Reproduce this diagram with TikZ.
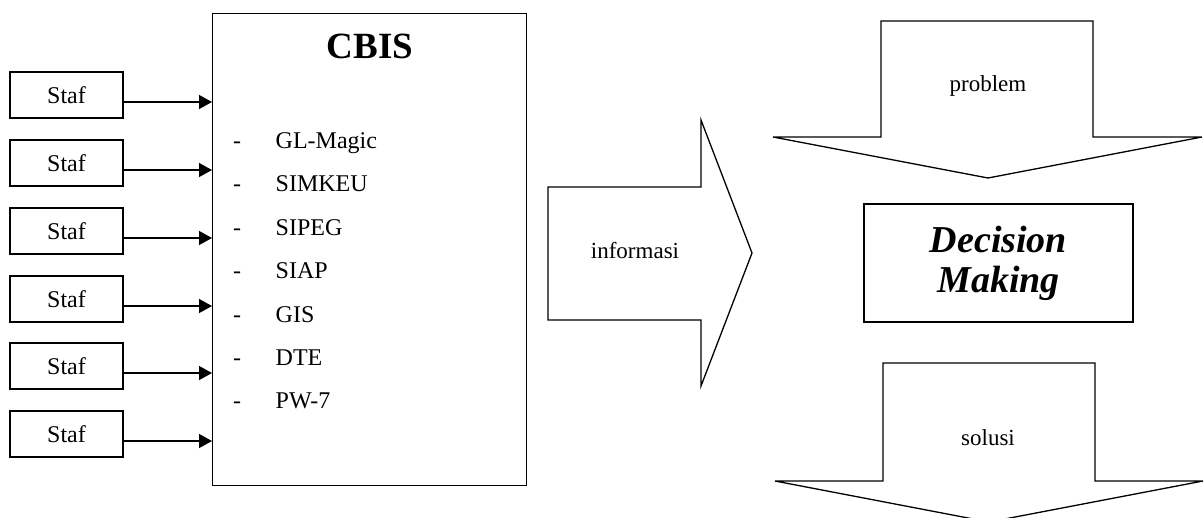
\documentclass[tikz,border=0pt]{standalone}
\usepackage{fontspec}
\setmainfont{Liberation Serif}
\usetikzlibrary{arrows.meta}
\begin{document}
\begin{tikzpicture}[x=1pt,y=-1pt,line width=1.4pt,
  stafbox/.style={draw,minimum width=113pt,minimum height=46pt,inner sep=0pt,font=\fontsize{24}{28}\selectfont},
  feed/.style={-{Triangle[length=13pt,width=14pt]}},
  item/.style={anchor=base west,inner sep=0pt,font=\fontsize{24}{28}\selectfont},
  bullet/.style={anchor=base,inner sep=0pt,font=\fontsize{24}{28}\selectfont},
  lbl/.style={anchor=base,inner sep=0pt,font=\fontsize{23}{27}\selectfont},
  bigarrow/.style={draw,line width=1.3pt,line join=miter}]
\useasboundingbox (0,0) rectangle (1204,517);

% CBIS box
\node[draw,anchor=north west,minimum width=314pt,minimum height=472pt,inner sep=0pt] (cbis) at (212,13) {};
\node[anchor=base,inner sep=0pt,font=\fontsize{37}{40}\selectfont\bfseries] (title) at (370,58) {CBIS};

% Staf boxes and connectors
\foreach \i/\y in {1/95,2/163,3/231,4/299,5/366,6/434}{
  \node[stafbox] (s\i) at (66.5,\y) {Staf};
  \draw[feed] ([yshift=-7pt]s\i.east) -- ([yshift=-7pt]s\i.east -| cbis.west);
}

% list
\foreach \j/\y/\t in {1/148/GL-Magic,2/191/SIMKEU,3/235/SIPEG,4/278/SIAP,5/322/GIS,6/365/DTE,7/408/PW-7}{
  \node[bullet] (d\j) at (237,\y) {-};
  \node[item] (it\j) at (275,\y) {\t};
}

% informasi arrow
\draw[bigarrow] (548,187) -- (701,187) -- (701,120) -- (752,253) -- (701,386) -- (701,320) -- (548,320) -- cycle;
\node[lbl] (info) at (635,258) {informasi};

% problem arrow
\draw[bigarrow] (881,21) -- (1093,21) -- (1093,137) -- (1202,137) -- (988,178) -- (773,137) -- (881,137) -- cycle;
\node[lbl] (prob) at (988,91) {problem};

% decision making
\node[draw,minimum width=269pt,minimum height=118pt,inner sep=0pt,align=center,
  font=\fontsize{38}{40}\selectfont\bfseries\itshape] (dm) at (998.5,263) {Decision\\Making};

% solusi arrow
\draw[bigarrow] (883,363) -- (1095,363) -- (1095,481) -- (1203,481) -- (989,522) -- (775,481) -- (883,481) -- cycle;
\node[lbl] (sol) at (988,445) {solusi};
\end{tikzpicture}
\end{document}
